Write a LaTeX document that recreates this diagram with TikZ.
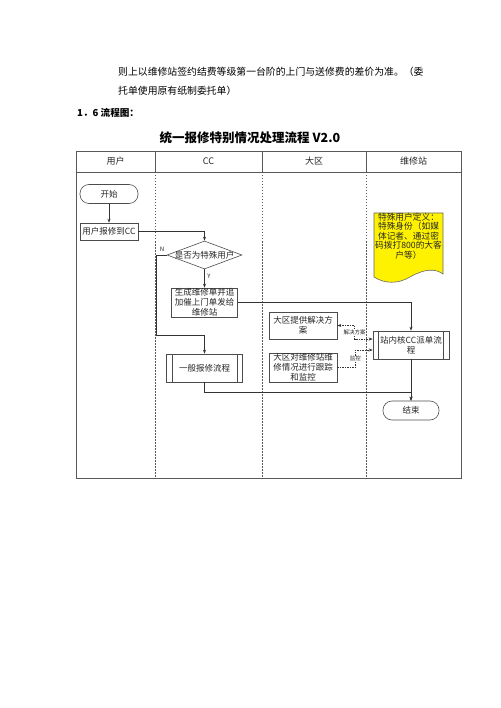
\documentclass[tikz,border=0pt]{standalone}
\usepackage{fontspec}
\setmainfont{Noto Sans CJK SC}
\usetikzlibrary{arrows.meta,shapes.geometric}
\begin{document}
\begin{tikzpicture}[x=1pt,y=-1pt,
  tbl/.style={draw=black!65, line width=0.7pt},
  col/.style={draw=black!65, line width=0.6pt, dash pattern=on 1.5pt off 1.5pt},
  box/.style={draw=black!70, line width=0.6pt, inner sep=0pt, align=center,
              font=\fontsize{8.5}{10}\selectfont, text=black!85},
  pill/.style={box, rounded corners=9pt},
  txt/.style={inner sep=0pt, align=center, font=\fontsize{8.5}{10}\selectfont, text=black!85},
  flow/.style={draw=black!80, line width=0.6pt, -{Stealth[length=4pt,width=3pt]}},
  dflow/.style={flow, dash pattern=on 1.5pt off 1pt},
  lbl/.style={font=\fontsize{5.5}{6}\selectfont, inner sep=0.6pt, text=black!85},
  head/.style={font=\fontsize{9}{10}\selectfont, text=black!85},
  body/.style={anchor=west, inner sep=0pt, font=\fontsize{9.85}{12}\selectfont},
]
\useasboundingbox (0,0) rectangle (500,708);

% text above the diagram
\node[body] (p1) at (118,72) {则上以维修站签约结费等级第一台阶的上门与送修费的差价为准。（委};
\node[body] (p2) at (118,91) {托单使用原有纸制委托单）};
\node[body, font=\bfseries\fontsize{9.6}{12}\selectfont] (sec) at (77,113) {1．6 流程图：};
\node[inner sep=0pt, font=\bfseries\fontsize{12.5}{14}\selectfont] (title) at (250,138) {统一报修特别情况处理流程 V2.0};

% swimlane table
\draw[tbl] (76,151) rectangle (461,478);
\draw[tbl] (76,172) -- (461,172);
\foreach \x in {155,262,366} {
  \draw[tbl] (\x,151) -- (\x,172);
  \draw[col] (\x,172) -- (\x,478);
}
\node[head] (h1) at (115.5,161.5) {用户};
\node[head] (h2) at (208.5,161.5) {CC};
\node[head] (h3) at (314,161.5) {大区};
\node[head] (h4) at (413.5,161.5) {维修站};

% nodes
\node[pill, minimum width=58pt, minimum height=19pt] (start) at (109,194) {开始};
\node[box, minimum width=58pt, minimum height=17pt] (report) at (109,231.5) {用户报修到CC};
\node[diamond, draw=black!70, line width=0.6pt, minimum width=75pt, minimum height=28pt, inner sep=0pt] (dec) at (204.5,255) {};
\node[txt] (dectext) at (dec.center) {是否为特殊用户};
\node[box, minimum width=66pt, minimum height=29pt] (gen) at (204.5,302.5) {生成维修单并追\\加催上门单发给\\维修站};
\node[box, minimum width=76pt, minimum height=28pt] (normal) at (204.5,368) {一般报修流程};
\draw[draw=black!70, line width=0.6pt] ([xshift=6pt]normal.north west) -- ([xshift=6pt]normal.south west);
\draw[draw=black!70, line width=0.6pt] ([xshift=-6pt]normal.north east) -- ([xshift=-6pt]normal.south east);
\node[box, minimum width=68pt, minimum height=27pt] (plan) at (303,325.5) {大区提供解决方\\案};
\node[box, minimum width=68pt, minimum height=29pt] (track) at (303,367.5) {大区对维修站维\\修情况进行跟踪\\和监控};
\node[box, minimum width=76pt, minimum height=28pt] (station) at (411,345) {站内核CC派单流\\程};
\draw[draw=black!70, line width=0.6pt] ([xshift=6pt]station.north west) -- ([xshift=6pt]station.south west);
\draw[draw=black!70, line width=0.6pt] ([xshift=-6pt]station.north east) -- ([xshift=-6pt]station.south east);
\node[pill, minimum width=56pt, minimum height=19pt] (end) at (411,410.5) {结束};

% yellow note
\draw[draw=black!60, fill=yellow, line width=0.6pt] (374,213) -- (443,213) -- (443,274)
  .. controls (435,268) and (424,269) .. (410,277)
  .. controls (398,284) and (385,284) .. (374,277) -- cycle;
\node[inner sep=0pt, align=center, font=\fontsize{8.7}{9.6}\selectfont, text=black!85] (note) at (408.5,236)
  {特殊用户定义：\\特殊身份（如媒\\体记者、通过密\\码拨打800的大客\\户等）};

% connectors
\draw[flow] (start) -- (report);
\draw[flow] (report.east) -| (dec.north);
\draw[flow] (dec.west) -- ++(-10,0) -- ++(0,80) -| (normal.north);
\node[lbl, font=\fontsize{6}{7}\selectfont] (nlab) at (162,249) {N};
\draw[flow] (dec.south) -- (gen.north);
\node[lbl, font=\fontsize{6}{7}\selectfont] (ylab) at (209,276) {Y};
\draw[flow] (gen.east) -| (station.north);
\draw[flow] (station.south) -- (end.north);
\draw[flow] (normal.south) -- ++(0,10) -| (end.north);
\draw[dflow, {Stealth[length=4pt,width=3pt]}-{Stealth[length=4pt,width=3pt]}]
  ([yshift=6pt]station.west) -- ++(-18,0) |- (plan.east) node[pos=0.25, lbl, fill=white] (lab1) {解决方案};
\draw[dflow] (track.east) -- ++(18,0) |- ([yshift=-5pt]station.west) node[pos=0.25, lbl, fill=white] (lab2) {监控};
\end{tikzpicture}
\end{document}
